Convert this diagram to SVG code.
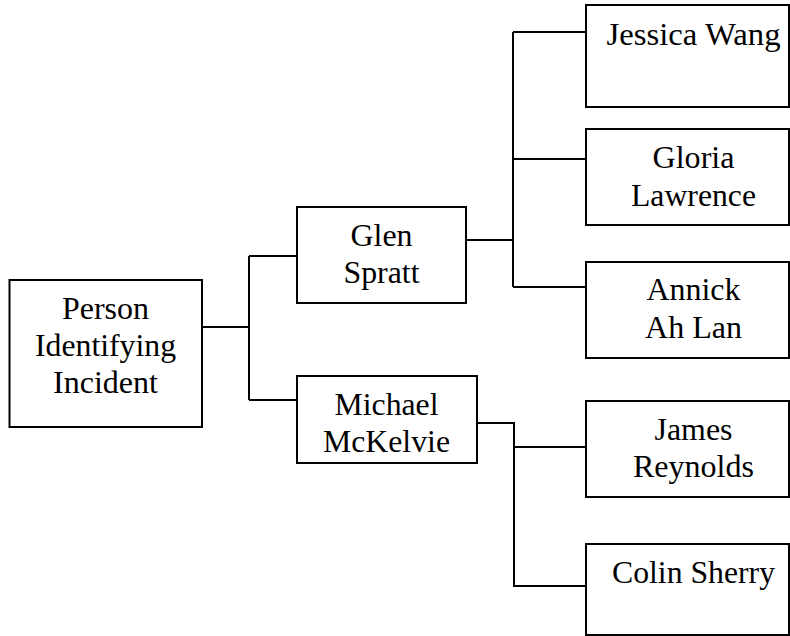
<svg xmlns="http://www.w3.org/2000/svg" width="790" height="636" viewBox="0 0 790 636">
<rect width="790" height="636" fill="#ffffff"/>
<g id="connectors" fill="none" stroke="#000000" stroke-width="2">
  <path d="M202,327 H249 M249,256 V400 M249,256 H297 M249,400 H297"/>
  <path d="M466,240 H513 M513,32 V287 M513,32 H586 M513,159 H586 M513,287 H586"/>
  <path d="M477,423 H514 V586 H586 M514,447 H586"/>
</g>
<g font-size="32">
<g id="person">
  <rect x="9.5" y="280" width="192.5" height="147" fill="#ffffff" stroke="#000000" stroke-width="2"/>
  <text x="105.5" y="319" font-family="Liberation Serif" text-anchor="middle" textLength="87" lengthAdjust="spacingAndGlyphs">Person</text>
  <text x="105.5" y="356" font-family="Liberation Serif" text-anchor="middle" textLength="141" lengthAdjust="spacingAndGlyphs">Identifying</text>
  <text x="105.5" y="393" font-family="Liberation Serif" text-anchor="middle" textLength="105" lengthAdjust="spacingAndGlyphs">Incident</text>
</g>
<g id="glen">
  <rect x="297" y="207" width="169" height="96" fill="#ffffff" stroke="#000000" stroke-width="2"/>
  <text x="381.5" y="246" font-family="Liberation Serif" text-anchor="middle" textLength="62" lengthAdjust="spacingAndGlyphs">Glen</text>
  <text x="381.5" y="283" font-family="Liberation Serif" text-anchor="middle" textLength="76" lengthAdjust="spacingAndGlyphs">Spratt</text>
</g>
<g id="michael">
  <rect x="297" y="376" width="180" height="87" fill="#ffffff" stroke="#000000" stroke-width="2"/>
  <text x="386.5" y="415" font-family="Liberation Serif" text-anchor="middle" textLength="104" lengthAdjust="spacingAndGlyphs">Michael</text>
  <text x="386.5" y="452" font-family="Liberation Serif" text-anchor="middle" textLength="127" lengthAdjust="spacingAndGlyphs">McKelvie</text>
</g>
<g id="jessica">
  <rect x="586" y="5" width="203" height="102" fill="#ffffff" stroke="#000000" stroke-width="2"/>
  <text x="693.5" y="45" font-family="Liberation Serif" text-anchor="middle" textLength="174" lengthAdjust="spacingAndGlyphs">Jessica Wang</text>
</g>
<g id="gloria">
  <rect x="586" y="129" width="203" height="96" fill="#ffffff" stroke="#000000" stroke-width="2"/>
  <text x="693.5" y="168" font-family="Liberation Serif" text-anchor="middle" textLength="82" lengthAdjust="spacingAndGlyphs">Gloria</text>
  <text x="693.5" y="206" font-family="Liberation Serif" text-anchor="middle" textLength="125" lengthAdjust="spacingAndGlyphs">Lawrence</text>
</g>
<g id="annick">
  <rect x="586" y="262" width="203" height="96" fill="#ffffff" stroke="#000000" stroke-width="2"/>
  <text x="693.5" y="300" font-family="Liberation Serif" text-anchor="middle" textLength="94" lengthAdjust="spacingAndGlyphs">Annick</text>
  <text x="693.5" y="338" font-family="Liberation Serif" text-anchor="middle" textLength="97" lengthAdjust="spacingAndGlyphs">Ah Lan</text>
</g>
<g id="james">
  <rect x="586" y="401" width="203" height="96" fill="#ffffff" stroke="#000000" stroke-width="2"/>
  <text x="693.5" y="440" font-family="Liberation Serif" text-anchor="middle" textLength="78" lengthAdjust="spacingAndGlyphs">James</text>
  <text x="693.5" y="477" font-family="Liberation Serif" text-anchor="middle" textLength="121" lengthAdjust="spacingAndGlyphs">Reynolds</text>
</g>
<g id="colin">
  <rect x="586" y="544" width="203" height="91" fill="#ffffff" stroke="#000000" stroke-width="2"/>
  <text x="693.5" y="583" font-family="Liberation Serif" text-anchor="middle" textLength="163" lengthAdjust="spacingAndGlyphs">Colin Sherry</text>
</g>
</g>
</svg>
